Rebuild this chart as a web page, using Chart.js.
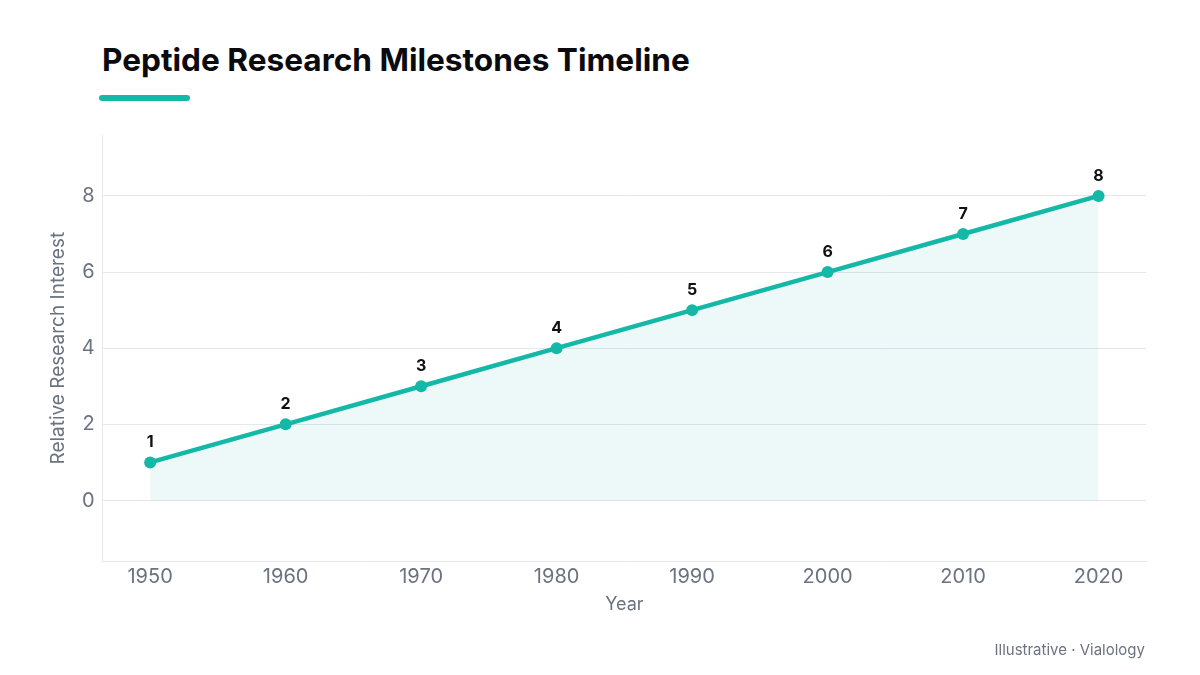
<!DOCTYPE html>
<html>
<head>
<meta charset="utf-8">
<script src="https://cdn.jsdelivr.net/npm/chart.js@4.4.1/dist/chart.umd.min.js"></script>
<style>
  html, body { margin: 0; padding: 0; background: #ffffff; }
  body { width: 1200px; height: 675px; position: relative; overflow: hidden; font-family: Inter, "Noto Sans", sans-serif; }
  #title { position: absolute; left: 102px; top: 40px; font-size: 31.6px; font-weight: 700; color: #0b0b0f; letter-spacing: 0px; line-height: 40px; }
  #bar { position: absolute; left: 99px; top: 95px; width: 91px; height: 6px; border-radius: 3px; background: #14b8a6; }
  #foot { position: absolute; right: 55px; top: 640px; font-size: 15px; color: #6b7280; }
  #wrap { position: absolute; left: 0; top: 0; width: 1200px; height: 675px; }
  canvas { display: block; }
</style>
</head>
<body>
<div id="title">Peptide Research Milestones Timeline</div>
<div id="bar"></div>
<div id="wrap"><canvas id="c" width="1200" height="675"></canvas></div>
<div id="foot">Illustrative · Vialology</div>
<script>
const years = [1950, 1960, 1970, 1980, 1990, 2000, 2010, 2020];
const interest = [1, 2, 3, 4, 5, 6, 7, 8];
const milestoneLabels = ["1", "2", "3", "4", "5", "6", "7", "8"];
const yTicks = [0, 2, 4, 6, 8];
const xTicks = years;

const teal = '#14b8a6';

const labelPlugin = {
  id: 'pointLabels',
  afterDatasetsDraw(chart) {
    const ctx = chart.ctx;
    const meta = chart.getDatasetMeta(0);
    ctx.save();
    ctx.font = '700 16px Inter, "Noto Sans", sans-serif';
    ctx.fillStyle = '#111111';
    ctx.textAlign = 'center';
    ctx.textBaseline = 'middle';
    meta.data.forEach((pt, i) => {
      ctx.fillText(milestoneLabels[i], pt.x, pt.y - 20);
    });
    ctx.restore();
  }
};

new Chart(document.getElementById('c'), {
  type: 'line',
  data: {
    datasets: [{
      data: years.map((y, i) => ({ x: y, y: interest[i] })),
      borderColor: teal,
      borderWidth: 4.5,
      backgroundColor: 'rgba(20,184,166,0.08)',
      fill: 'origin',
      tension: 0,
      pointRadius: 6,
      pointHoverRadius: 6,
      pointBackgroundColor: teal,
      pointBorderColor: teal,
      pointBorderWidth: 0
    }]
  },
  options: {
    responsive: false,
    animation: false,
    maintainAspectRatio: false,
    layout: { padding: { left: 47, right: 54, top: 135, bottom: 60 } },
    plugins: { legend: { display: false }, tooltip: { enabled: false } },
    scales: {
      x: {
        type: 'linear',
        min: 1946.5,
        max: 2023.5,
        afterBuildTicks: (s) => { s.ticks = xTicks.map(v => ({ value: v })); },
        grid: { display: false, drawTicks: false },
        border: { display: true, color: '#e5e7eb', width: 1 },
        ticks: {
          color: '#6b7280',
          font: { family: 'Inter, "Noto Sans", sans-serif', size: 20 },
          padding: 4,
          maxRotation: 0,
          callback: (v) => String(v)
        },
        title: {
          display: true, text: 'Year', color: '#6b7280',
          font: { family: 'Inter, "Noto Sans", sans-serif', size: 18 },
          padding: { top: 0, bottom: 0 }
        }
      },
      y: {
        min: -1.6,
        max: 9.6,
        afterBuildTicks: (s) => { s.ticks = yTicks.map(v => ({ value: v })); },
        grid: { color: '#e5e7eb', lineWidth: 1, drawTicks: false },
        border: { display: true, color: '#e5e7eb', width: 1 },
        ticks: {
          color: '#6b7280',
          font: { family: 'Inter, "Noto Sans", sans-serif', size: 20 },
          padding: 8
        },
        title: {
          display: true, text: 'Relative Research Interest', color: '#6b7280',
          font: { family: 'Inter, "Noto Sans", sans-serif', size: 19 },
          padding: { top: 0, bottom: 4 }
        }
      }
    }
  },
  plugins: [labelPlugin]
});
</script>
</body>
</html>
